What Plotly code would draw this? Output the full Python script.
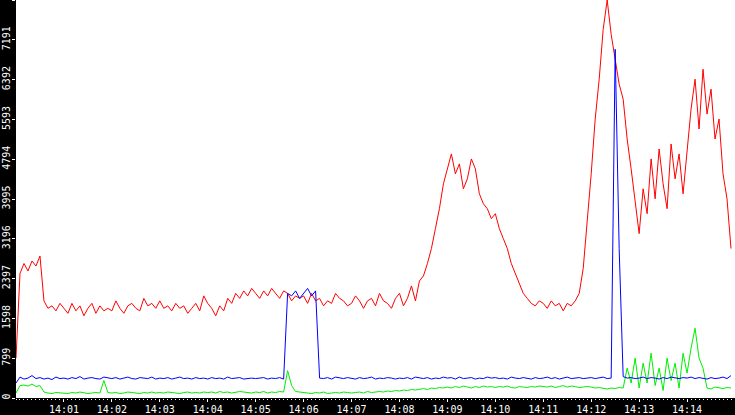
import plotly.graph_objects as go
import pandas as pd

times = pd.date_range("2024-01-01 14:00:00", periods=180, freq="5s")

red = [
 800,2500,2700,2550,2750,2650,2850,1950,1800,1850,1750,1900,
 1800,1700,1900,1750,1850,1650,1800,1900,1700,1850,1750,1800,
 1750,1950,1800,1700,1850,1900,1800,1750,2000,1850,1900,1800,
 1950,1800,1850,1750,1900,1800,1850,1700,1800,1900,1750,2050,
 1900,1800,1650,1850,1750,2000,1900,2100,2000,2150,2050,2200,
 2100,2000,2150,2050,2200,2100,2000,2150,2100,1950,2050,2000,
 2050,1900,2100,1950,2000,1850,1950,1900,2100,2000,1950,1850,
 1900,2050,1950,1800,1950,2000,1850,2100,1950,1900,1800,2000,
 2100,1850,2000,2250,1950,2350,2450,2700,3000,3400,3800,4300,
 4600,4900,4500,4700,4200,4400,4800,4600,4100,3900,3800,3600,
 3700,3400,3200,3000,2700,2500,2300,2100,2000,1900,1850,1950,
 1900,1800,1950,1850,1900,1750,1900,1850,1950,2100,2600,3500,
 4500,5600,6400,7400,7990,7300,6800,6300,6000,5200,4600,3900,
 3300,4200,3700,4800,4000,5000,4300,3800,5100,4400,4900,4100,
 5000,5800,6400,5400,6600,5700,6200,5200,5600,4500,4000,3000]

blue = [
 300,420,380,400,450,390,410,380,400,370,420,390,
 400,380,410,390,430,380,400,410,390,380,420,400,
 390,410,380,400,420,390,380,410,400,390,420,380,
 400,390,410,380,400,420,390,400,380,410,390,400,
 380,410,390,400,380,420,390,400,410,380,390,400,
 390,400,410,380,400,390,410,380,2100,2050,2150,2000,
 2100,2200,2050,2150,400,390,410,380,420,400,390,410,
 400,380,410,390,400,420,380,400,390,410,400,380,
 400,390,410,380,420,400,390,410,380,400,390,420,
 400,410,380,420,390,400,410,380,400,390,420,400,
 410,390,400,380,420,400,390,410,400,380,410,390,
 400,420,390,410,380,400,420,390,400,410,390,400,
 410,390,400,420,390,400,7000,3000,430,400,410,390,
 400,420,390,410,400,380,410,390,420,400,390,410,
 400,420,390,410,400,380,410,390,400,420,390,450]

green = [
 100,250,260,240,280,230,250,120,100,90,110,100,
 100,90,110,100,120,100,90,100,110,100,350,110,
 100,110,90,100,120,110,100,90,110,100,120,100,
 110,100,120,110,100,90,110,120,100,110,100,120,
 110,120,100,130,110,120,100,110,130,120,110,100,
 120,110,130,100,120,110,130,120,550,250,130,120,
 110,100,90,110,100,120,90,100,110,100,120,110,
 100,110,120,100,130,110,120,130,120,140,130,150,
 140,160,150,170,160,180,190,170,200,190,210,200,
 220,200,230,210,240,220,200,230,210,240,220,230,
 210,230,220,240,210,200,230,220,210,230,220,240,
 230,220,240,210,230,250,220,240,230,210,220,230,
 220,200,210,190,180,200,190,210,200,600,300,800,
 200,700,300,900,250,600,150,800,350,700,200,900,
 500,1000,1400,800,600,200,180,220,200,190,210,200]

yticks = [0,799,1598,2397,3196,3995,4794,5593,6392,7191,7990]
xticks = pd.date_range("2024-01-01 14:01:00", periods=14, freq="1min")
xlabels = [t.strftime("%H:%M") for t in xticks]

fig = go.Figure()
for vals, col in [(red, "#ff0000"), (green, "#00ee00"), (blue, "#0000ff")]:
    fig.add_trace(go.Scatter(x=times, y=vals, mode="lines",
                             line=dict(color=col, width=1)))

fig.update_layout(
    width=735, height=415, showlegend=False,
    paper_bgcolor="black", plot_bgcolor="white",
    margin=dict(l=16, r=0, t=0, b=17, pad=0, autoexpand=False),
    font=dict(family="DejaVu Sans Mono", size=10, color="white"),
    xaxis=dict(range=[times[0], pd.Timestamp("2024-01-01 14:15:00")],
               tickvals=list(xticks), ticktext=xlabels, showgrid=False,
               ticks="outside", ticklen=3, tickcolor="white", zeroline=False,
               automargin=False, ticklabelstandoff=-1,
               minor=dict(dtick=5000, ticks="outside", ticklen=1, tickcolor="white")),
    yaxis=dict(range=[0, 7990], tickvals=yticks, ticktext=[str(v) for v in yticks],
               tickangle=-90, showgrid=False, zeroline=False, automargin=False,
               ticks="outside", ticklen=3, tickcolor="white", ticklabelstandoff=-2),
)
fig.write_html("out.html", config={"displayModeBar": False},
               post_script="document.body.style.margin='0';")
